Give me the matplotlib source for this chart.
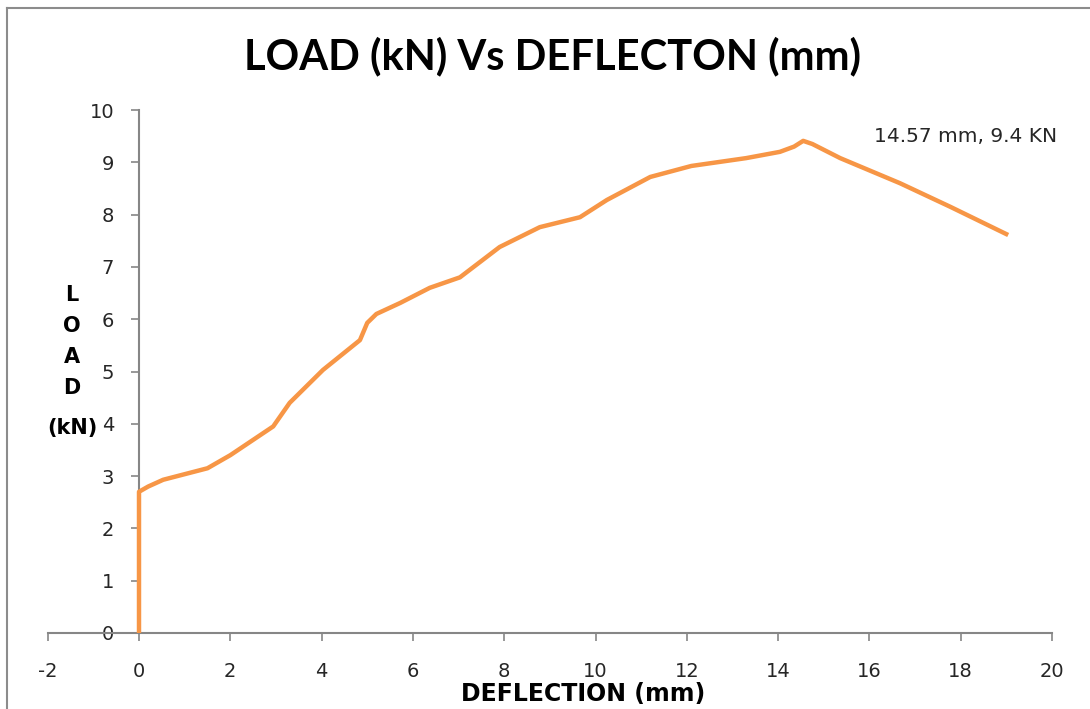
import matplotlib
matplotlib.use("Agg")
import matplotlib.pyplot as plt
from matplotlib.lines import Line2D

plt.rcParams["axes.unicode_minus"] = False

deflection = [0.0, 0.0, 0.2, 0.53, 1.5, 2.0, 2.94, 3.3, 4.03, 4.84, 5.0, 5.2, 5.72,
              6.37, 7.03, 7.9, 8.78, 9.66, 10.25, 11.2, 12.1, 13.3, 14.04, 14.35, 14.55,
              14.75, 15.36, 16.67, 17.77, 19.04]
load = [0.0, 2.7, 2.8, 2.93, 3.15, 3.4, 3.95, 4.4, 5.03, 5.6, 5.93, 6.1, 6.31,
        6.6, 6.8, 7.38, 7.76, 7.95, 8.28, 8.72, 8.93, 9.08, 9.2, 9.3, 9.41,
        9.35, 9.08, 8.6, 8.15, 7.61]
x_ticks = list(range(-2, 21, 2))
y_ticks = list(range(0, 11))
title = "LOAD (kN) Vs DEFLECTON (mm)"
annotation = "14.57 mm, 9.4 KN"

fig = plt.figure(figsize=(10.9, 7.09), dpi=100)
ax = fig.add_axes([47.7 / 1090, 1 - 633 / 709, (1052 - 47.7) / 1090, (633 - 110) / 709])
ax.plot(deflection, load, color="#F79646", lw=3.2, solid_joinstyle="round",
        solid_capstyle="butt", zorder=3, clip_on=False)
ax.set_xlim(-2, 20)
ax.set_ylim(0, 10)
ax.set_xticks(x_ticks)
ax.set_yticks(y_ticks)
for s in ["top", "right"]:
    ax.spines[s].set_visible(False)
ax.spines["left"].set_position(("data", 0))
ax.spines["bottom"].set_position(("data", 0))
for s in ["left", "bottom"]:
    ax.spines[s].set_color("#868686")
    ax.spines[s].set_linewidth(1.5)
ax.tick_params(axis="both", direction="out", length=6, width=1.2, color="#868686",
               labelsize=14, labelcolor="#262626")
ax.tick_params(axis="x", pad=15)
ax.tick_params(axis="y", pad=12)
ax.patch.set_alpha(0)

fig.text(553 / 1090, 1 - 56 / 709, title, ha="center", va="center",
         fontsize=30, fontweight="bold", family="Lato", color="black")
fig.text(583 / 1090, 1 - 694 / 709, "DEFLECTION (mm)", ha="center", va="center",
         fontsize=17, fontweight="bold", color="black")
ylab_y = [295, 326, 357, 388]
for ch, yy in zip("LOAD", ylab_y):
    fig.text(72 / 1090, 1 - yy / 709, ch, ha="center", va="center",
             fontsize=15, fontweight="bold", color="black")
fig.text(72 / 1090, 1 - 428 / 709, "(kN)", ha="center", va="center",
         fontsize=15, fontweight="bold", color="black")
fig.text(966 / 1090, 1 - 137 / 709, annotation, ha="center", va="center",
         fontsize=14.5, color="#262626")

fig.add_artist(Line2D([7 / 1090, 1.0], [1 - 8 / 709, 1 - 8 / 709], transform=fig.transFigure,
                      color="#8c8c8c", lw=1.5))
fig.add_artist(Line2D([7 / 1090, 7 / 1090], [0, 1 - 8 / 709], transform=fig.transFigure,
                      color="#8c8c8c", lw=1.5))

fig.savefig("out.png", dpi=100)
